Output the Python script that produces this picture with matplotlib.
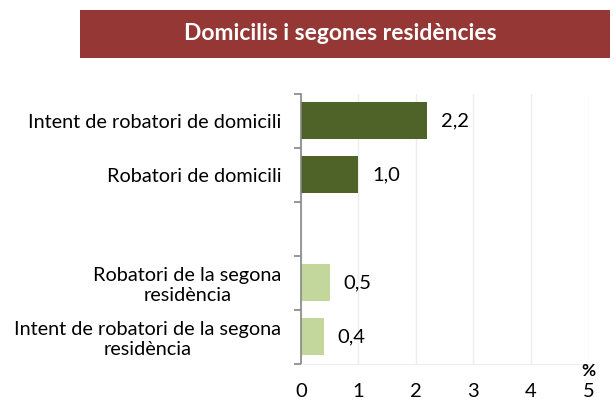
import matplotlib.pyplot as plt
from matplotlib.patches import Rectangle

plt.rcParams['font.family'] = ['Lato', 'DejaVu Sans']

categories = ["Intent de robatori de domicili",
              "Robatori de domicili",
              "",
              "Robatori de la segona\nresidència",
              "Intent de robatori de la segona\nresidència"]
values = [2.2, 1.0, None, 0.5, 0.4]
colors = ["#4F6228", "#4F6228", None, "#C3D69B", "#C3D69B"]
title = "Domicilis i segones residències"

fig = plt.figure(figsize=(6.14, 4.01), dpi=100)
ax = fig.add_axes([0.490, 0.0935, 0.4685, 0.6733])

# title banner
fig.patches.append(Rectangle((80 / 614, 1 - 58 / 401), 530 / 614, 48 / 401,
                             transform=fig.transFigure, facecolor="#953735",
                             edgecolor="none"))
fig.text(340 / 614, 1 - 34 / 401, title, color="white", fontsize=16.5,
         fontweight="bold", ha="center", va="center")

for i, (v, c) in enumerate(zip(values, colors)):
    if v is None:
        continue
    ax.barh(i, v, height=0.68, color=c, zorder=2)
    ax.annotate(f"{v:.1f}".replace(".", ","), (v, i), xytext=(10, 0),
                textcoords="offset points", va="center", ha="left",
                fontsize=14.5)

ax.set_xlim(0, 5)
ax.set_ylim(4.5, -0.5)
ax.set_xticks(range(6))
ax.set_yticks([y - 0.5 for y in range(6)])
ax.set_yticklabels([])
ax.set_yticks(range(5), minor=True)
ax.set_yticklabels(categories, minor=True, fontsize=14.3, multialignment="center")
ax.tick_params(axis="y", which="minor", length=0, pad=14)
ax.tick_params(axis="y", which="major", length=5, color="#868686", width=1.2)
ax.tick_params(axis="x", length=0, pad=14, labelsize=14.5)

ax.grid(axis="x", color="#EDEDED", linewidth=1, zorder=0)
for s in ["top", "right"]:
    ax.spines[s].set_visible(False)
ax.spines["left"].set_color("#868686")
ax.spines["left"].set_linewidth(1.2)
ax.spines["bottom"].set_color("#EDEDED")

fig.text(588 / 614, 1 - 371 / 401, "%", fontsize=12.5, fontweight="bold",
         ha="center", va="center")

fig.savefig("out.png", dpi=100)
